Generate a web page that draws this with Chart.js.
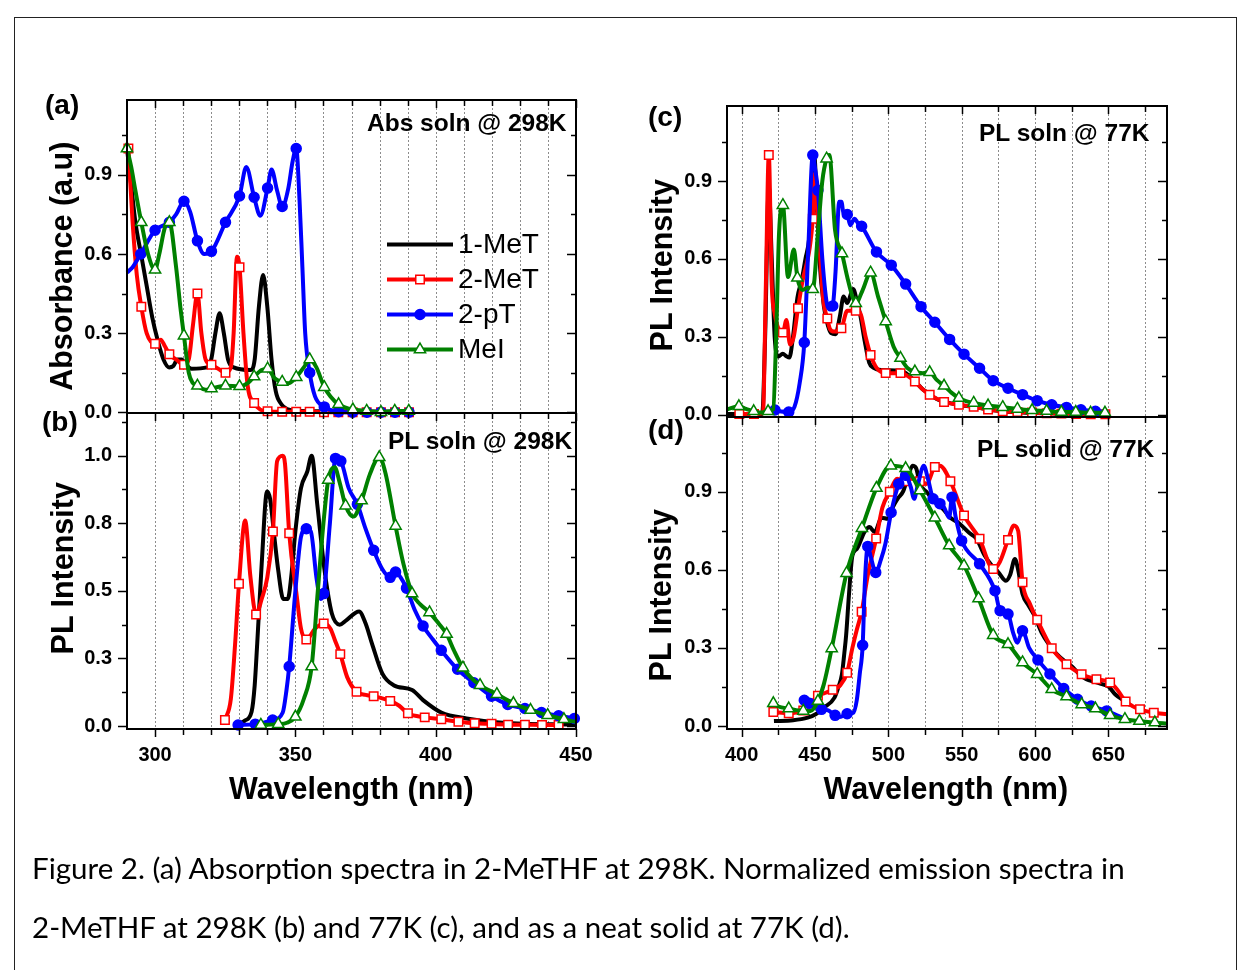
<!DOCTYPE html>
<html>
<head>
<meta charset="utf-8">
<script src="https://cdn.jsdelivr.net/npm/chart.js@4.4.1/dist/chart.umd.min.js"></script>
<style>
html, body { margin: 0; padding: 0; background: #fff; overflow: hidden; }
#page { position: relative; width: 1248px; height: 970px; overflow: hidden; }
canvas { position: absolute; left: 0; top: 0; }
.t { position: absolute; white-space: nowrap; line-height: 1; color: #000; font-family: "Liberation Sans", Arial, sans-serif; }
.b { font-weight: bold; }
#border { position: absolute; left: 14px; top: 17px; width: 1221px; height: 1000px; border: 1px solid #222; }
</style>
</head>
<body>
<div id="page">
  <div id="border"></div>
  <canvas id="cA" width="1248" height="970"></canvas>
  <canvas id="cB" width="1248" height="970"></canvas>
  <canvas id="cC" width="1248" height="970"></canvas>
  <canvas id="cD" width="1248" height="970"></canvas>
</div>
<script>
// compounds, in legend order
const compounds = ['1-MeT', '2-MeT', '2-pT', 'MeI'];

// axis ticks
const abGrid = [300, 310, 320, 330, 340, 350, 360, 370, 380, 390, 400, 410, 420, 430, 440, 450];
const abLabels = [300, 350, 400, 450];
const cdGrid = [400, 425, 450, 475, 500, 525, 550, 575, 600, 625, 650, 675];
const cdLabels = [400, 450, 500, 550, 600, 650];
const yTicks3 = [0, 0.3, 0.6, 0.9];
const yMinor3 = [0.15, 0.45, 0.75, 1.05];
const yTicks25 = [0, 0.25, 0.5, 0.75, 1.0];
const yMinor25 = [0.125, 0.375, 0.625, 0.875, 1.125];

// (a) absorption, solution 298K  [wavelength nm, absorbance]
const absMeT1 = [[290,1.0],[291.5,0.86],[293,0.72],[295,0.6],[297,0.48],[299,0.36],[301,0.27],[303,0.2],[305,0.17],[306.5,0.175],[308,0.2],[309.5,0.2],[311,0.18],[313,0.165],[318.5,0.17],[320,0.2],[321.5,0.3],[323,0.375],[324.5,0.3],[326,0.2],[328,0.17],[334,0.16],[335.5,0.2],[337,0.4],[338.5,0.52],[340,0.4],[341.5,0.2],[343,0.08],[345,0.03],[347,0.012],[350,0.006],[360,0.004],[390,0.002]];
const absMeT2 = [[292,0.72],[293.5,0.52],[297,0.3],[302,0.275],[303.5,0.25],[307.5,0.2],[312,0.2],[313.5,0.33],[316.5,0.3],[318,0.2],[322.5,0.165],[327,0.17],[328,0.3],[329.2,0.59],[331.5,0.3],[333,0.1],[337.5,0.01]];
const absMeT2Mk = [[290.5,1.0],[295.1,0.4],[300,0.26],[305.1,0.22],[310.3,0.18],[315.1,0.45],[320.1,0.18],[325.1,0.15],[330.1,0.55],[335.3,0.035],[340.1,0.004],[345.3,0.002],[350.3,0.002],[355.1,0.002],[360.2,0],[365.3,0],[370.4,0],[375.4,0],[380.5,0],[385.5,0],[390.5,0]];
const absPT2 = [[290,0.53],[292,0.55],[307.5,0.75],[312.5,0.76],[317.5,0.6],[332.5,0.93],[337.5,0.745],[341.5,0.92],[343.5,0.84],[347.5,0.85],[349,0.95],[351.5,0.8],[352.5,0.55],[353.5,0.3],[357,0.06]];
const absPT2Mk = [[294.9,0.6],[300,0.69],[305.1,0.72],[310.3,0.8],[315.1,0.65],[320.1,0.61],[325.1,0.72],[330.1,0.82],[335.3,0.815],[340.1,0.85],[345.3,0.78],[350.3,1.0],[355.1,0.15],[360.3,0.02],[365.4,0.002],[370.4,0],[375.5,0],[380.5,0],[385.5,0],[390.5,0]];
const absMeI = [[291.5,0.93],[293,0.84],[297.5,0.6],[301.5,0.6],[303.5,0.7],[307.5,0.55],[309,0.4],[312,0.15],[313.5,0.11],[318,0.085],[333,0.11],[338,0.16],[342.5,0.13],[347.5,0.11],[353,0.17],[357.5,0.17],[362.5,0.06]];
const absMeIMk = [[290,1.0],[295.1,0.72],[300,0.54],[305.1,0.72],[310.3,0.29],[315.1,0.1],[320.1,0.09],[325.1,0.1],[330.1,0.098],[335.3,0.135],[340.1,0.165],[345.3,0.115],[350.3,0.133],[355.1,0.2],[360.3,0.095],[365.4,0.03],[370.5,0.01],[375.4,0.005],[380.5,0.0],[385.4,0.005],[390.4,0.005]];

// (b) PL, solution 298K
const rtMeT1 = [[330,0.008],[332,0.02],[334.4,0.053],[335.5,0.15],[336.4,0.305],[338,0.6],[339.9,0.868],[341,0.84],[342.5,0.7],[343.9,0.575],[345.7,0.47],[347.3,0.47],[348.5,0.55],[350,0.72],[352,0.88],[354.2,0.94],[355.8,1.0],[357.8,0.82],[360.4,0.576],[363,0.416],[365.8,0.375],[368,0.39],[372.7,0.424],[375,0.38],[377.3,0.305],[381,0.194],[385,0.151],[391.6,0.133],[395.5,0.096],[402,0.05],[411,0.028],[424,0.012],[450,0.005]];
const rtMeT2 = [[327,0.1],[328.5,0.3],[332.1,0.76],[334,0.55],[338,0.47],[340,0.55],[343.5,0.98],[345.5,1.0],[346.3,0.97],[350.5,0.48],[352,0.36],[357,0.36],[362.5,0.36],[364,0.32],[368.5,0.18],[375,0.115],[387,0.075]];
const rtMeT2Mk = [[324.9,0.022],[329.9,0.526],[336,0.413],[342,0.72],[347.8,0.713],[353.9,0.32],[360.1,0.379],[366,0.266],[371.8,0.127],[377.9,0.11],[383.8,0.093],[390.1,0.047],[396.1,0.032],[402,0.025],[408.1,0.016],[413.9,0.01],[419.9,0.008],[425.8,0.005],[431.8,0.005],[437.9,0.004],[443.8,0.004]];
const rtPT2 = [[345.5,0.05],[346.8,0.13],[350,0.5],[352,0.7],[355.5,0.72],[357.5,0.55],[359,0.47],[362.3,0.75],[369,0.88],[375,0.73],[381,0.58],[387.5,0.55],[392.5,0.43],[399,0.32]];
const rtPT2Mk = [[329.6,0.004],[335.7,0.007],[341.9,0.022],[347.8,0.22],[353.9,0.73],[360.1,0.49],[364.3,0.99],[366.2,0.98],[372.1,0.82],[377.9,0.65],[383.8,0.55],[385.7,0.57],[389.6,0.51],[395.5,0.37],[402,0.28],[407.8,0.21],[413.6,0.16],[419.9,0.11],[425.7,0.08],[431.8,0.065],[437.7,0.05],[443.8,0.038],[449.4,0.028]];
const rtMeI = [[347,0.012],[353,0.1],[358,0.5],[360,0.75],[364,0.957],[365.8,0.9],[370.7,0.775],[376.5,0.93],[382,0.94],[388.5,0.6],[394.5,0.45],[401,0.38],[406.5,0.28],[412.5,0.18],[450,0.015]];
const rtMeIMk = [[337.7,0.004],[343.9,0.007],[350,0.034],[355.8,0.22],[361.7,0.91],[367.9,0.815],[373.6,0.834],[379.9,0.994],[385.7,0.74],[391.6,0.49],[397.8,0.42],[403.9,0.34],[409.7,0.216],[415.8,0.151],[421.8,0.118],[427.7,0.084],[433.8,0.059],[439.9,0.04],[445.7,0.025]];

// (c) PL, solution 77K
const lowMeT1 = [[390,0.003],[414,0.003],[416,0.3],[418.5,0.88],[420.5,0.6],[422.5,0.3],[425,0.224],[428,0.235],[430.5,0.225],[432.5,0.22],[435,0.3],[438,0.45],[441,0.52],[443.5,0.6],[446,0.678],[448,0.85],[449.5,1.0],[451,0.85],[453,0.6],[456,0.42],[459,0.34],[461,0.314],[464,0.31],[467,0.38],[469.5,0.455],[472,0.43],[476,0.484],[478.5,0.44],[481,0.38],[484,0.28],[487,0.2],[490,0.18],[495,0.172],[508,0.17],[512,0.16],[518,0.13],[523,0.1],[528,0.08],[533,0.06],[538,0.05],[548,0.037],[558,0.03],[570,0.018],[585,0.01],[610,0.005],[650,0.002]];
const lowMeT2 = [[414.5,0.005],[416.5,0.5],[420.5,0.5],[422.5,0.39],[430.5,0.365],[433,0.27],[435.5,0.3],[441,0.5],[450,0.93],[452,0.75],[455.5,0.45],[460.2,0.33],[463,0.32],[472,0.4],[481,0.39],[484.5,0.3],[492,0.18],[503,0.16],[513,0.15],[523,0.1]];
const lowMeT2Mk = [[398.4,0.003],[408.4,0.003],[418.5,1.0],[428.1,0.316],[438.4,0.41],[448.5,0.755],[458.4,0.37],[468,0.333],[477.8,0.4],[487.9,0.23],[498.2,0.16],[508.3,0.16],[518.1,0.128],[528.2,0.077],[538,0.049],[548.1,0.038],[558.2,0.03],[568,0.02],[578,0.013],[588,0.01],[598,0.008],[608,0.005],[618,0.004],[628,0.003],[638,0.002],[648,0.002]];
const lowPT2 = [[420.4,0.02],[427,0.012],[436,0.03],[439.5,0.12],[445.5,0.65],[450,0.95],[455,0.6],[458,0.43],[460,0.405],[464,0.55],[466.5,0.82],[468,0.82],[469.5,0.775],[474,0.73],[477,0.755],[479,0.74],[650,0.01]];
const lowPT2Mk = [[422.7,0.018],[432.1,0.01],[442.7,0.278],[448.5,1.0],[452,0.864],[462.1,0.419],[472,0.771],[481.8,0.726],[491.9,0.627],[502,0.576],[511.8,0.503],[522.3,0.416],[531.7,0.356],[541.8,0.29],[551.6,0.233],[562.2,0.179],[571.5,0.131],[581.6,0.102],[591.5,0.077],[601.5,0.054],[611.4,0.038],[621.5,0.028],[631.3,0.019],[641.2,0.013]];
const lowMeI = [[390,0.02],[403,0.022],[413,0.008],[421.5,0.02],[423.5,0.3],[425.5,0.7],[431.6,0.53],[435.6,0.636],[441.5,0.48],[445,0.49],[452,0.7],[455,0.9],[459.8,1.0],[463.7,0.71],[472,0.53],[475.5,0.455],[482.5,0.48],[493,0.455],[503.6,0.262],[513,0.18],[523.5,0.16],[533,0.134],[543,0.085],[553,0.052]];
const lowMeIMk = [[398.1,0.032],[408.2,0.013],[418,0.013],[428.1,0.807],[438,0.527],[448.5,0.483],[457.9,0.986],[468.4,0.621],[477.8,0.429],[487.9,0.547],[498.2,0.359],[508.3,0.218],[518.1,0.166],[528.2,0.163],[538,0.111],[548.1,0.064],[558.2,0.045],[568,0.035],[578,0.029],[588,0.022],[598,0.017],[607.9,0.014],[618,0.01],[627.8,0.01],[637.9,0.007],[647.7,0.007]];

// (d) PL, neat solid 77K
const solMeT1 = [[422,0.019],[435,0.022],[445,0.032],[450.4,0.045],[456,0.07],[463.3,0.109],[466,0.15],[468.4,0.2],[470,0.28],[471.2,0.347],[473.1,0.5],[475.5,0.655],[478.5,0.68],[483.7,0.745],[487.2,0.764],[490.7,0.745],[495.4,0.8],[499.6,0.796],[503,0.84],[506.6,0.875],[510,0.9],[513.7,0.963],[516.5,1.0],[519,0.99],[521.5,0.93],[526,0.9],[531.7,0.86],[537,0.835],[542.3,0.8],[548,0.78],[555.1,0.742],[560,0.72],[565.7,0.655],[570,0.62],[575.1,0.59],[580.2,0.558],[583,0.58],[586.3,0.642],[588.5,0.6],[591.5,0.507],[595.7,0.462],[600,0.42],[604.4,0.36],[610,0.31],[614.9,0.276],[620,0.25],[625,0.23],[630,0.2],[635,0.18],[640.7,0.17],[645,0.162],[650,0.152],[655,0.12],[660,0.1],[665,0.08]];
const solMeT2 = [[456,0.125],[467,0.155],[475.5,0.3],[478.5,0.37],[486,0.58],[496,0.84],[506,0.95],[516,0.95],[526,0.93],[535.2,1.0],[576,0.63],[585.6,0.77],[588.5,0.75],[596.5,0.47],[656,0.14],[666,0.078],[690,0.045]];
const solMeT2Mk = [[421.6,0.054],[432.1,0.049],[442,0.06],[452,0.116],[462.1,0.139],[471.9,0.205],[481.8,0.439],[491.7,0.72],[501,0.9],[511,0.94],[521.5,0.94],[531.7,0.995],[542.3,0.94],[551.6,0.809],[562.2,0.719],[571.5,0.603],[581.6,0.715],[591.5,0.552],[601.5,0.408],[611.4,0.299],[621.5,0.237],[631.8,0.199],[641.9,0.18],[651.2,0.167],[661.8,0.094],[671.6,0.064],[681,0.051]];
const solPT2 = [[450,0.072],[459,0.06],[467,0.035],[476,0.05],[478.5,0.1],[480.5,0.2],[484,0.55],[488,0.65],[495,0.64],[498,0.7],[515.3,0.918],[517.6,0.873],[520,0.924],[524.2,1.0],[527,0.95],[538,0.84],[541.5,0.8],[546,0.8],[585,0.36],[588,0.32],[596,0.3],[659.4,0.032]];
const solPT2Mk = [[442.7,0.099],[446.2,0.087],[454.4,0.064],[463.7,0.041],[471.9,0.047],[482.5,0.31],[486,0.69],[491.4,0.59],[501.9,0.82],[507.1,0.93],[511.8,0.963],[530.5,0.873],[535.2,0.854],[543.4,0.879],[550,0.712],[562.2,0.623],[572.7,0.52],[576.2,0.443],[581.6,0.43],[591.5,0.366],[602,0.254],[610.2,0.2],[619.6,0.144],[629,0.103],[638.3,0.077],[648.9,0.058]];
const solMeI = [[425,0.075],[447,0.058],[456,0.16],[690,0.01]];
const solMeIMk = [[421.6,0.087],[432.1,0.067],[442,0.058],[452,0.096],[461.4,0.298],[471.5,0.587],[482,0.76],[491.9,0.914],[501.7,1.0],[511.8,0.99],[521.6,0.905],[531.7,0.8],[541.5,0.693],[551.6,0.616],[561.5,0.49],[571.5,0.349],[581.6,0.314],[591.5,0.244],[601.5,0.199],[611.4,0.141],[621.5,0.113],[631.8,0.083],[641.2,0.067],[651.2,0.041],[661.3,0.026],[671.2,0.019],[681.7,0.013]];

// series looks
const looks = [
  { color: '#000000' },
  { color: '#ff0000', shape: 'rect', r: 6, fill: '#ffffff' },
  { color: '#0000ff', shape: 'circle', r: 5, fill: '#0000ff' },
  { color: '#008000', shape: 'triangle', r: 6.5, fill: '#ffffff' }
];

Chart.defaults.font.family = '"Liberation Sans", Arial, sans-serif';

function xy(arr) { return arr.map(p => ({ x: p[0], y: p[1] })); }

function buildSets(lines, marks) {
  const out = [];
  lines.forEach((line, i) => {
    const lk = looks[i];
    const o = 2 * (lines.length - 1 - i);
    const pts = (marks[i] ? line.concat(marks[i]) : line.slice()).sort((p, q) => p[0] - q[0]);
    out.push({ data: xy(pts), showLine: true, borderColor: lk.color, borderWidth: 4, pointRadius: 0,
      cubicInterpolationMode: 'monotone', clip: false, order: o + 1 });
    if (marks[i]) {
      out.push({ data: xy(marks[i]), showLine: false, pointStyle: lk.shape, pointRadius: lk.r,
        pointBackgroundColor: lk.fill, pointBorderColor: lk.color, pointBorderWidth: 1.5, clip: false, order: o });
    }
  });
  return out;
}

function drawMark(ctx, shape, x, y, r) {
  ctx.beginPath();
  if (shape === 'rect') {
    const s = r * Math.SQRT1_2;
    ctx.rect(x - s, y - s, 2 * s, 2 * s);
  } else if (shape === 'circle') {
    ctx.arc(x, y, r, 0, Math.PI * 2);
  } else {
    const a = 2 * Math.PI / 3;
    ctx.moveTo(x, y - r);
    ctx.lineTo(x + r * Math.sin(a), y - r * Math.cos(a));
    ctx.lineTo(x + r * Math.sin(2 * a), y - r * Math.cos(2 * a));
    ctx.closePath();
  }
  ctx.fill();
  ctx.stroke();
}

// frame, inward/outward ticks, dotted grid and (a)'s legend
function framePlugin(cfg) {
  return {
    id: 'frame',
    beforeDatasetsDraw(chart) {
      const { ctx, chartArea: a } = chart;
      ctx.save();
      ctx.strokeStyle = '#8c8c8c';
      ctx.lineWidth = 1;
      ctx.setLineDash([2, 2]);
      cfg.grid.forEach(v => {
        const p = Math.round(chart.scales.x.getPixelForValue(v)) + 0.5;
        ctx.beginPath(); ctx.moveTo(p, a.top); ctx.lineTo(p, a.bottom); ctx.stroke();
      });
      ctx.restore();
    },
    afterDatasetsDraw(chart) {
      const { ctx, chartArea: a } = chart;
      const xs = chart.scales.x, ys = chart.scales.y;
      const seg = (x1, y1, x2, y2) => { ctx.beginPath(); ctx.moveTo(x1, y1); ctx.lineTo(x2, y2); ctx.stroke(); };
      ctx.save();
      ctx.strokeStyle = '#000';
      ctx.lineWidth = 1.5;
      cfg.grid.forEach(v => {
        const p = Math.round(xs.getPixelForValue(v)) + 0.5;
        const len = cfg.major.includes(v) ? 8 : 6;
        seg(p, a.top, p, a.top + len);
        if (cfg.bottom) seg(p, a.bottom, p, a.bottom + len);
      });
      [[cfg.yMaj, 9], [cfg.yMin, 5]].forEach(([vals, len]) => vals.forEach(v => {
        const p = Math.round(ys.getPixelForValue(v)) + 0.5;
        seg(a.left - len, p, a.left, p);
        seg(a.right - len, p, a.right, p);
      }));
      ctx.lineWidth = 2;
      ctx.strokeRect(a.left, a.top, a.right - a.left, a.bottom - a.top);
      if (cfg.legend) {
        cfg.legend.forEach((yPos, i) => {
          const lk = looks[i];
          ctx.strokeStyle = lk.color;
          ctx.lineWidth = 4;
          seg(387, yPos, 453, yPos);
          if (lk.shape) {
            ctx.fillStyle = lk.fill;
            ctx.lineWidth = 1.5;
            drawMark(ctx, lk.shape, 420, yPos, lk.r);
          }
          ctx.fillStyle = '#000';
          ctx.font = '28px "Liberation Sans", Arial, sans-serif';
          ctx.textBaseline = 'middle';
          ctx.fillText(compounds[i], 458, yPos + 1);
        });
      }
      ctx.restore();
    }
  };
}

function makePanel(id, box, xr, yr, grid, major, labels, yMaj, yMin, sets, legend) {
  const showX = labels.length > 0;
  return new Chart(document.getElementById(id), {
    type: 'scatter',
    data: { datasets: sets },
    options: {
      responsive: false, animation: false, events: [], devicePixelRatio: 1,
      layout: { padding: { left: box.l - 60, top: box.t, right: 1248 - box.r, bottom: 970 - box.b - (showX ? 40 : 0) } },
      plugins: { legend: { display: false }, tooltip: { enabled: false } },
      scales: {
        x: {
          type: 'linear', min: xr[0], max: xr[1],
          grid: { display: false, drawTicks: false }, border: { display: false },
          afterBuildTicks: s => { s.ticks = grid.map(v => ({ value: v })); },
          afterFit: s => { s.height = showX ? 40 : 0; },
          ticks: { display: showX, autoSkip: false, maxRotation: 0, padding: 14, color: '#000',
            font: { size: 20, weight: 'bold' }, callback: v => labels.includes(v) ? String(v) : '' }
        },
        y: {
          type: 'linear', min: yr[0], max: yr[1],
          grid: { display: false, drawTicks: false }, border: { display: false },
          afterBuildTicks: s => { s.ticks = yMaj.map(v => ({ value: v })); },
          afterFit: s => { s.width = 60; },
          ticks: { padding: 15, color: '#000', font: { size: 20, weight: 'bold' }, callback: v => v.toFixed(1) }
        }
      }
    },
    plugins: [framePlugin({ grid, major, yMaj, yMin, bottom: showX, legend })]
  });
}

makePanel('cA', { l: 127, t: 100, r: 576, b: 413 }, [290, 450], [-0.003, 1.184], abGrid, abLabels, [], yTicks3, yMinor3,
  buildSets([absMeT1, absMeT2, absPT2, absMeI], [null, absMeT2Mk, absPT2Mk, absMeIMk]), [244.5, 279.5, 314.5, 349.5]);
makePanel('cB', { l: 127, t: 413, r: 576, b: 729 }, [290, 450], [-0.011, 1.158], abGrid, abLabels, abLabels, yTicks25, yMinor25,
  buildSets([rtMeT1, rtMeT2, rtPT2, rtMeI], [null, rtMeT2Mk, rtPT2Mk, rtMeIMk]), null);
makePanel('cC', { l: 727, t: 106, r: 1167, b: 417 }, [390, 690], [-0.009, 1.189], cdGrid, cdLabels, [], yTicks3, yMinor3,
  buildSets([lowMeT1, lowMeT2, lowPT2, lowMeI], [null, lowMeT2Mk, lowPT2Mk, lowMeIMk]), null);
makePanel('cD', { l: 727, t: 417, r: 1167, b: 729 }, [390, 690], [-0.0115, 1.187], cdGrid, cdLabels, cdLabels, yTicks3, yMinor3,
  buildSets([solMeT1, solMeT2, solPT2, solMeI], [null, solMeT2Mk, solPT2Mk, solMeIMk]), null);

// text
const page = document.getElementById('page');
function label(txt, o) {
  const d = document.createElement('div');
  d.className = 't' + (o.bold ? ' b' : '');
  d.textContent = txt;
  d.style.fontSize = o.size + 'px';
  if (o.family) d.style.fontFamily = o.family;
  page.appendChild(d);
  let size = o.size;
  if (o.width) { size = o.size * o.width / d.offsetWidth; d.style.fontSize = size + 'px'; }
  const w = d.offsetWidth, h = d.offsetHeight;
  let left = o.x;
  if (o.align === 'right') left = o.x - w;
  if (o.align === 'center' || o.rotate) left = o.x - w / 2;
  if (o.rotate) d.style.transform = 'rotate(-90deg)';
  d.style.left = left + 'px';
  d.style.top = (o.y - h / 2) + 'px';
  return size;
}

label('(a)', { x: 45, y: 104.5, size: 28, bold: true });
label('(b)', { x: 42, y: 422, size: 28, bold: true });
label('(c)', { x: 648, y: 116.5, size: 28, bold: true });
label('(d)', { x: 648, y: 429.5, size: 28, bold: true });

label('Abs soln @ 298K', { x: 567, y: 123, size: 24.5, bold: true, align: 'right' });
label('PL soln @ 298K', { x: 572, y: 441, size: 24.5, bold: true, align: 'right' });
label('PL soln @ 77K', { x: 1149, y: 133, size: 24.5, bold: true, align: 'right' });
label('PL solid @ 77K', { x: 1154, y: 449, size: 24.5, bold: true, align: 'right' });

label('Absorbance (a.u)', { x: 61, y: 266, size: 30.5, bold: true, rotate: true });
label('PL Intensity', { x: 61.5, y: 568, size: 30.5, bold: true, rotate: true });
label('PL Intensity', { x: 661, y: 265, size: 30.5, bold: true, rotate: true });
label('PL Intensity', { x: 660, y: 595, size: 30.5, bold: true, rotate: true });
label('Wavelength (nm)', { x: 351.5, y: 788, size: 30.5, bold: true, align: 'center' });
label('Wavelength (nm)', { x: 946, y: 788, size: 30.5, bold: true, align: 'center' });

const capFont = 'Lato, "Open Sans", sans-serif';
const capSize = label('Figure 2. (a) Absorption spectra in 2-MeTHF at 298K. Normalized emission spectra in',
  { x: 32, y: 868, size: 26, family: capFont, width: 1093 });
label('2-MeTHF at 298K (b) and 77K (c), and as a neat solid at 77K (d).',
  { x: 32, y: 927, size: capSize, family: capFont });
</script>
</body>
</html>
